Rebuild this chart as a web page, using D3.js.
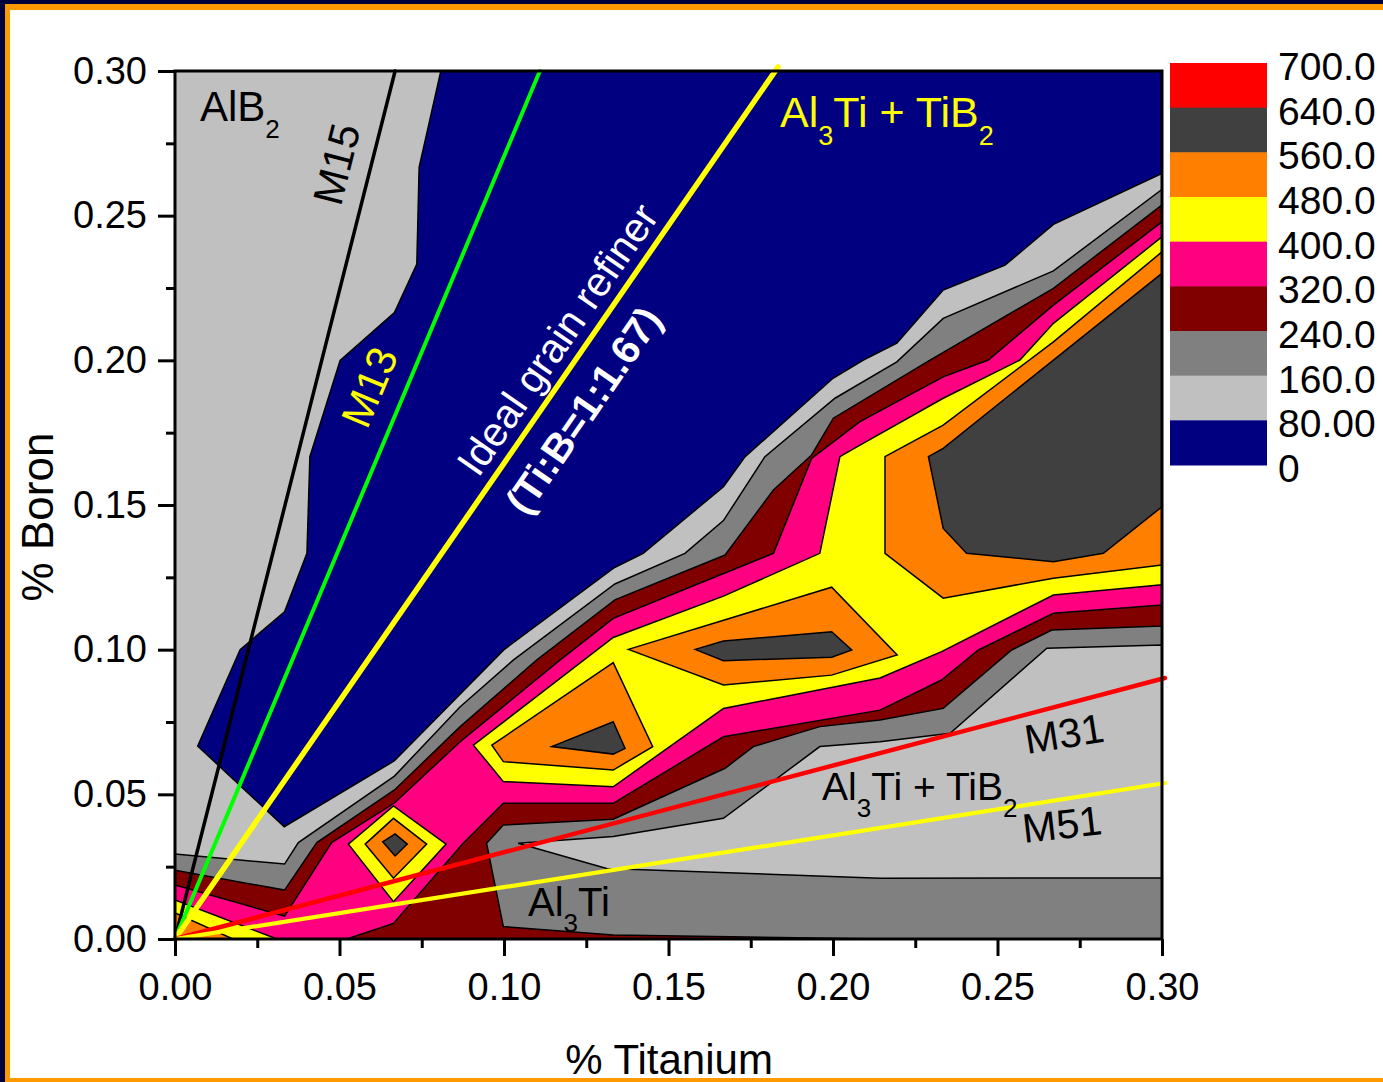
<!DOCTYPE html>
<html>
<head>
<meta charset="utf-8">
<script src="https://cdn.jsdelivr.net/npm/d3@7"></script>
<style>
  body { margin: 0; background: #fff; }
  svg { display: block; }
  text { font-family: "Liberation Sans", Arial, Helvetica, sans-serif; }
</style>
</head>
<body>
<svg id="chart" width="1383" height="1082"></svg>
<script>
// ---- Axis ticks (% Ti on x, % B on y) ----
const tiTicks = [0, 0.05, 0.10, 0.15, 0.20, 0.25, 0.30];
const bTicks = [0, 0.05, 0.10, 0.15, 0.20, 0.25, 0.30];
const minorTicks = [0.025, 0.075, 0.125, 0.175, 0.225, 0.275];

// ---- Contour levels and legend labels (top to bottom) ----
const levelValues = [0, 80, 160, 240, 320, 400, 480, 560, 640, 700];
const legendLabels = ["700.0", "640.0", "560.0", "480.0", "400.0", "320.0", "240.0", "160.0", "80.00", "0"];

// ---- Contour regions, [Ti %, B %] vertices ----
const domainBox = [[0, 0], [0.3, 0], [0.3, 0.3], [0, 0.3]];

const below80 = [[0.0808, 0.30], [0.0742, 0.2667], [0.0735, 0.2333], [0.0667, 0.2165], [0.0502, 0.2000],
  [0.0410, 0.1667], [0.0401, 0.1333], [0.0333, 0.1131], [0.0198, 0.1000], [0.0069, 0.0667],
  [0.0332, 0.0388], [0.0667, 0.0616], [0.1000, 0.1000], [0.1333, 0.1282], [0.1423, 0.1333],
  [0.1667, 0.1563], [0.1733, 0.1667], [0.2000, 0.1938], [0.2091, 0.2000], [0.2194, 0.2059],
  [0.2335, 0.2243], [0.2523, 0.2329], [0.2670, 0.2470], [0.3, 0.2646], [0.3, 0.3]];

const above160 = [[0, 0.0294], [0.0333, 0.0259], [0.0375, 0.0333], [0.0667, 0.0563], [0.0866, 0.0802],
  [0.1028, 0.0964], [0.1337, 0.1227], [0.1550, 0.1333], [0.1667, 0.1446], [0.1793, 0.1667],
  [0.2006, 0.1869], [0.2194, 0.1995], [0.2335, 0.2145], [0.2670, 0.2309], [0.3, 0.2591],
  [0.3, 0], [0, 0]];

const pocket80 = [[0.1043, 0.0331], [0.1332, 0.0354], [0.1667, 0.0417], [0.1960, 0.0665], [0.2143, 0.0682],
  [0.2356, 0.0711], [0.2650, 0.1005], [0.3, 0.1016], [0.3, 0.0211], [0.2143, 0.0210], [0.1312, 0.0244]];

const above240 = [[0, 0.0238], [0.0333, 0.0169], [0.0431, 0.0333], [0.0667, 0.0515], [0.0866, 0.0733],
  [0.1099, 0.0964], [0.1337, 0.1172], [0.1672, 0.1327], [0.1819, 0.1552], [0.1935, 0.1673],
  [0.2001, 0.1800], [0.2295, 0.2001], [0.2670, 0.2249], [0.3, 0.2537],
  [0.3, 0.1082], [0.2665, 0.1068], [0.2543, 0.0999], [0.2335, 0.0797], [0.2143, 0.0757],
  [0.1960, 0.0734], [0.1758, 0.0665], [0.1672, 0.0590], [0.1332, 0.0414], [0.0998, 0.0394],
  [0.0947, 0.0331], [0.0998, 0.0043], [0.1332, 0.0014], [0.2143, 0], [0, 0]];

const above320 = [[0, 0.0187], [0.0333, 0.0079], [0.0476, 0.0333], [0.0667, 0.0470], [0.0866, 0.0681],
  [0.1170, 0.0964], [0.1332, 0.1108], [0.1819, 0.1333], [0.1935, 0.1661], [0.2082, 0.1788],
  [0.2335, 0.1943], [0.2472, 0.2001], [0.2670, 0.2191], [0.3, 0.2479],
  [0.3, 0.1154], [0.2670, 0.1126], [0.2442, 0.0999], [0.2330, 0.0895], [0.2143, 0.0791],
  [0.1667, 0.0699], [0.1332, 0.0469], [0.0998, 0.0469], [0.0876, 0.0331], [0.0664, 0.0054],
  [0.0522, 0], [0, 0]];

const cornerFan400 = [[0, 0.0135], [0.0310, 0], [0, 0]];
const cornerFan480 = [[0, 0.0090], [0.0176, 0], [0, 0]];
const cornerFan560 = [[0, 0.0031], [0.0030, 0], [0, 0]];

const diamond400 = [[0.0527, 0.0328], [0.0664, 0.0460], [0.0824, 0.0328], [0.0664, 0.0129]];
const diamond480 = [[0.0578, 0.0328], [0.0664, 0.0417], [0.0765, 0.0328], [0.0664, 0.0210]];
const diamond560 = [[0.0631, 0.0336], [0.0669, 0.0363], [0.0706, 0.0328], [0.0669, 0.0287]];

const ridge400 = [[0.0907, 0.0670], [0.1332, 0.1042], [0.1667, 0.1185], [0.1960, 0.1333], [0.2021, 0.1667],
  [0.2082, 0.1707], [0.2335, 0.1869], [0.2568, 0.2001], [0.2670, 0.2128], [0.3, 0.2427],
  [0.3, 0.1224], [0.2670, 0.1189], [0.2330, 0.0993], [0.2143, 0.0902], [0.1667, 0.0797],
  [0.1332, 0.0526], [0.0998, 0.0544]];

const lobeA480 = [[0.0963, 0.0670], [0.1332, 0.0955], [0.1452, 0.0665], [0.1332, 0.0584], [0.0998, 0.0613]];
const lobeB480 = [[0.1378, 0.1001], [0.1996, 0.1216], [0.2195, 0.0982], [0.1996, 0.0912], [0.1667, 0.0878]];
const lobeC480 = [[0.2158, 0.1667], [0.2335, 0.1776], [0.2670, 0.2064], [0.3, 0.2375], [0.3, 0.1293],
  [0.2670, 0.1247], [0.2335, 0.1178], [0.2158, 0.1333]];

const lobeA560 = [[0.1145, 0.0665], [0.1332, 0.0751], [0.1368, 0.0659], [0.1332, 0.0639]];
const lobeB560 = [[0.1581, 0.1001], [0.1667, 0.1030], [0.1996, 0.1062], [0.2057, 0.0999], [0.1996, 0.0974], [0.1667, 0.0962]];
const lobeC560 = [[0.2290, 0.1667], [0.2335, 0.1696], [0.2670, 0.2001], [0.3, 0.2301], [0.3, 0.1494],
  [0.2822, 0.1333], [0.2670, 0.1304], [0.2406, 0.1333], [0.2335, 0.1419]];

// ---- Composition ratio lines through the origin ----
const lineM15 = [[0, 0], [0.0669, 0.30]];
const lineM13 = [[0, 0], [0.1109, 0.30]];
const lineIdeal = [[0, 0], [0.1833, 0.3014]];
const lineM31 = [[0, 0], [0.3009, 0.0902]];
const lineM51 = [[0, 0], [0.3009, 0.0539]];

// ---- Styling ----
const bandColors = ["#000080", "#C0C0C0", "#808080", "#800000", "#FF0080", "#FFFF00", "#FF8000", "#404040", "#FF0000"];

const svg = d3.select("#chart");
const W = 1383, H = 1082;
const plotL = 175, plotR = 1162, plotT = 71, plotB = 939;

// Page frame
svg.append("rect").attr("x", 0).attr("y", 0).attr("width", W).attr("height", H).attr("fill", "#fff");
svg.append("rect").attr("x", 0).attr("y", 0).attr("width", 5).attr("height", H).attr("fill", "#00003a");
svg.append("rect").attr("x", 0).attr("y", 0).attr("width", W).attr("height", 4).attr("fill", "#00003a");
svg.append("rect").attr("x", 5).attr("y", 4).attr("width", 5).attr("height", H).attr("fill", "#FF9900");
svg.append("rect").attr("x", 5).attr("y", 4).attr("width", W).attr("height", 6).attr("fill", "#FF9900");
svg.append("rect").attr("x", 5).attr("y", 1078).attr("width", W).attr("height", 4).attr("fill", "#FF9900");

const x = d3.scaleLinear().domain([0, 0.3]).range([plotL, plotR]);
const y = d3.scaleLinear().domain([0, 0.3]).range([plotB, plotT]);

svg.append("defs").append("clipPath").attr("id", "plotClip")
  .append("rect").attr("x", plotL).attr("y", plotT).attr("width", plotR - plotL).attr("height", plotB - plotT);

const shape = d3.line().x(d => x(d[0])).y(d => y(d[1])).curve(d3.curveLinearClosed);

// Filled contour bands, painted from the lowest level upward
const fills = [
  [1, domainBox], [0, below80], [2, above160], [1, pocket80], [3, above240], [4, above320],
  [5, cornerFan400], [6, cornerFan480], [7, cornerFan560],
  [5, diamond400], [6, diamond480], [7, diamond560],
  [5, ridge400], [6, lobeA480], [6, lobeB480], [6, lobeC480],
  [7, lobeA560], [7, lobeB560], [7, lobeC560]
];

const gPlot = svg.append("g").attr("clip-path", "url(#plotClip)");
gPlot.selectAll("path.band").data(fills).join("path")
  .attr("class", "band")
  .attr("d", d => shape(d[1]))
  .attr("fill", d => bandColors[d[0]])
  .attr("stroke", "#000")
  .attr("stroke-width", 1.5)
  .attr("stroke-linejoin", "miter");

// Ratio lines
const straight = d3.line().x(d => x(d[0])).y(d => y(d[1]));
const ratioLines = [
  [lineM15, "#000000", 3.5],
  [lineM13, "#00FF00", 4],
  [lineIdeal, "#FFFF00", 5.5],
  [lineM31, "#FF0000", 4.5],
  [lineM51, "#FFFF00", 4.2]
];
svg.append("g").selectAll("path").data(ratioLines).join("path")
  .attr("d", d => straight(d[0]))
  .attr("stroke", d => d[1])
  .attr("stroke-width", d => d[2])
  .attr("stroke-linecap", "round")
  .attr("fill", "none");

// Axes
function styleAxis(g) {
  g.select(".domain").remove();
  g.selectAll(".tick line").attr("stroke", "#000").attr("stroke-width", 3);
  g.selectAll(".tick text").attr("fill", "#000").style("font-size", "38px")
    .style("font-family", "'Liberation Sans', Arial, sans-serif");
}
svg.append("g").attr("transform", `translate(0,${plotB})`)
  .call(d3.axisBottom(x).tickValues(tiTicks).tickFormat(d3.format(".2f"))
    .tickSizeInner(17).tickSizeOuter(0).tickPadding(17))
  .call(styleAxis);
svg.append("g").attr("transform", `translate(0,${plotB})`)
  .call(d3.axisBottom(x).tickValues(minorTicks).tickFormat("").tickSizeInner(9).tickSizeOuter(0))
  .call(styleAxis);
svg.append("g").attr("transform", `translate(${plotL},0)`)
  .call(d3.axisLeft(y).tickValues(bTicks).tickFormat(d3.format(".2f"))
    .tickSizeInner(17).tickSizeOuter(0).tickPadding(11))
  .call(styleAxis);
svg.append("g").attr("transform", `translate(${plotL},0)`)
  .call(d3.axisLeft(y).tickValues(minorTicks).tickFormat("").tickSizeInner(9).tickSizeOuter(0))
  .call(styleAxis);

// Plot frame
svg.append("rect").attr("x", plotL).attr("y", plotT).attr("width", plotR - plotL).attr("height", plotB - plotT)
  .attr("fill", "none").attr("stroke", "#000").attr("stroke-width", 3);

// Axis titles
svg.append("text").attr("x", 669).attr("y", 1074).attr("text-anchor", "middle")
  .style("font-size", "42px").text("% Titanium");
svg.append("text").attr("transform", "translate(53,517) rotate(-90)").attr("text-anchor", "middle")
  .style("font-size", "44px").text("% Boron");

// Legend
const bandH = 402 / 9;
const legendBands = d3.range(9).map(i => bandColors[8 - i]);
svg.append("g").selectAll("rect").data(legendBands).join("rect")
  .attr("x", 1170).attr("y", (d, i) => 63 + i * bandH)
  .attr("width", 97).attr("height", bandH + 0.5).attr("fill", d => d);
svg.append("g").selectAll("text").data(legendLabels).join("text")
  .attr("x", 1278).attr("y", (d, i) => 80 + i * bandH)
  .style("font-size", "39px").attr("fill", "#000").text(d => d);

// Phase labels with subscripts
function formula(xp, yp, parts, size, subSize, color, subDrop) {
  const t = svg.append("text").attr("x", xp).attr("y", yp).attr("fill", color).style("font-size", size + "px");
  let down = false;
  parts.forEach(p => {
    const ts = t.append("tspan").text(p.t);
    if (p.sub) { ts.attr("dy", subDrop).style("font-size", subSize + "px"); down = true; }
    else if (down) { ts.attr("dy", -subDrop); down = false; }
  });
  return t;
}
formula(200, 121, [{t: "AlB"}, {t: "2", sub: true}], 42, 26, "#000", 17);
formula(780, 127, [{t: "Al"}, {t: "3", sub: true}, {t: "Ti + TiB"}, {t: "2", sub: true}], 43, 27, "#FFFF00", 18);
formula(822, 800, [{t: "Al"}, {t: "3", sub: true}, {t: "Ti + TiB"}, {t: "2", sub: true}], 39, 26, "#000", 17);
formula(528, 916, [{t: "Al"}, {t: "3", sub: true}, {t: "Ti"}], 40, 26, "#000", 16);

// Rotated line labels
function rotLabel(cx, cy, angle, str, color, size, weight) {
  svg.append("text").attr("transform", `translate(${cx},${cy}) rotate(${angle})`)
    .attr("text-anchor", "middle").attr("dy", "0.36em")
    .attr("fill", color).style("font-size", size + "px").style("font-weight", weight || "normal")
    .text(str);
}
rotLabel(336, 164, -75.8, "M15", "#000", 42);
rotLabel(369, 387, -67.2, "M13", "#FFFF00", 42);
rotLabel(557, 339, -55.3, "Ideal grain refiner", "#FFFFFF", 41);
rotLabel(583, 410, -55.3, "(Ti:B=1:1.67)", "#FFFFFF", 40, "bold");
svg.append("text").attr("transform", "translate(1027,754) rotate(-9)")
  .attr("fill", "#000").style("font-size", "41px").text("M31");
svg.append("text").attr("transform", "translate(1024,843) rotate(-6.5)")
  .attr("fill", "#000").style("font-size", "41px").text("M51");
</script>
</body>
</html>
